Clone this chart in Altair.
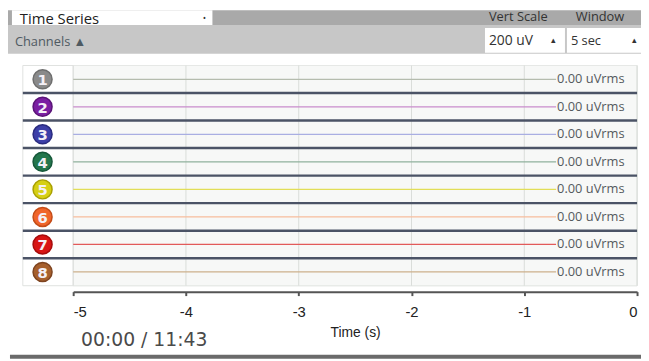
import altair as alt
import pandas as pd

# ---- data ----
channels = [1, 2, 3, 4, 5, 6, 7, 8]
badge_colors = ["#8a8a8a", "#7b1fa2", "#3d3fa8", "#23764c", "#d6cf14", "#f0652a", "#d81515", "#a65f2c"]
badge_strokes = ["#6e6e6e", "#5a1478", "#2a2c80", "#16583a", "#a9a000", "#c44c18", "#a80c0c", "#7e4420"]
trace_colors = ["#b5bcae", "#c98ccc", "#a9aee2", "#8fb19d", "#e2de58", "#f7bd9d", "#e25a5a", "#cdb08c"]
rms_values = [0.00, 0.00, 0.00, 0.00, 0.00, 0.00, 0.00, 0.00]
time_ticks = [-5, -4, -3, -2, -1, 0]
grid_times = [-5, -4, -3, -2, -1, 0]
window_start = -5
window_end = 0
elapsed = "00:00"
duration = "11:43"

rows = pd.DataFrame({
    "ch": channels,
    "badge": badge_colors,
    "badge_stroke": badge_strokes,
    "trace": trace_colors,
    "rms": [f"{v:.2f} uVrms" for v in rms_values],
    "t0": [window_start] * len(channels),
    "num": [str(c) for c in channels],
})
seps = rows[rows["ch"] < 8]
grid = pd.DataFrame({"t": grid_times})
one = pd.DataFrame({"k": [0]})

X_SCALE = alt.Scale(domain=[window_start, window_end], range=[66, 637])
Y_SCALE = alt.Scale(type="band", range=[56, 279], paddingInner=0, paddingOuter=0)
UI_FONT = "Open Sans"

base_one = alt.Chart(one)


def box(x, x2, y, y2, color, stroke=None):
    kw = {}
    if stroke:
        kw = dict(stroke=stroke, strokeWidth=1)
    return base_one.mark_rect(color=color, **kw).encode(
        x=alt.value(x), x2=alt.value(x2), y=alt.value(y), y2=alt.value(y2)
    )


def label(text, x, y, size, color="#333333", align="left", weight="normal",
          font=UI_FONT, baseline="middle"):
    return base_one.mark_text(
        text=text, align=align, baseline=baseline, fontSize=size, color=color,
        fontWeight=weight, font=font
    ).encode(x=alt.value(x), y=alt.value(y))


# ---- header chrome ----
top_bar = box(0, 641, 0, 15, "#a9a9a9")
sub_bar = box(0, 641, 15, 44, "#c7c7c7")
ts_box = box(4, 207, 0, 15, "#ffffff")
ts_text = label("Time Series", 12, 2, 15, "#222222", baseline="top")
ts_dot = label("•", 199, 8, 9, "#333333", align="center")
channels_text = label("Channels ▲", 7, 32, 13, "#4f5a62")
vert_text = label("Vert Scale", 487, 1, 13, "#333333", baseline="top")
win_text = label("Window", 575, 1, 13, "#333333", baseline="top")
vs_box = box(483, 564, 18, 43, "#ffffff")
win_box = box(566, 641, 18, 43, "#ffffff")
vs_text = label("200 uV", 487, 31, 14, "#333333")
vs_arrow = label("▴", 552, 30, 9, "#333333", align="center")
win_val = label("5 sec", 570, 31, 13, "#333333")
win_arrow = label("▴", 634, 30, 9, "#333333", align="center")

# ---- panel ----
panel_bg = box(15, 637, 56, 279, "#ffffff", stroke="#dfe2df")
y_enc = alt.Y("ch:O", scale=Y_SCALE, axis=None)

row_bg = alt.Chart(rows).mark_rect(color="#f7f8f7", stroke="#e6e8e6", strokeWidth=1).encode(
    x=alt.value(66), x2=alt.value(637), y=y_enc
)
grid_rules = alt.Chart(grid).mark_rule(color="#d9dcd9", strokeWidth=1).encode(
    x=alt.X("t:Q", scale=X_SCALE), y=alt.value(56), y2=alt.value(279)
)
traces = alt.Chart(rows).mark_rule(strokeWidth=1.3).encode(
    x=alt.X("t0:Q", scale=X_SCALE), x2=alt.value(555), y=y_enc,
    color=alt.Color("trace:N", scale=None),
)
rms_text = alt.Chart(rows).mark_text(
    align="left", baseline="middle", fontSize=13, color="#555a5e", font=UI_FONT
).encode(x=alt.value(556), y=y_enc, text="rms:N")
separators = alt.Chart(seps).mark_rule(color="#4b5366", strokeWidth=2.5).encode(
    x=alt.value(15), x2=alt.value(637), y=alt.Y("ch:O", scale=Y_SCALE, axis=None, bandPosition=1)
)
badges = alt.Chart(rows).mark_circle(size=370, opacity=1, strokeWidth=1.5).encode(
    x=alt.value(35), y=y_enc,
    color=alt.Color("badge:N", scale=None),
    stroke=alt.Stroke("badge_stroke:N", scale=None),
)
badge_nums = alt.Chart(rows).mark_text(
    fontSize=15, fontWeight="bold", color="#f4f0f6", font="DejaVu Sans", baseline="middle", dy=1
).encode(x=alt.value(35), y=y_enc, text="num:N")

# ---- x axis (drawn through the time scale) ----
axis_layer = alt.Chart(pd.DataFrame({"t": time_ticks})).mark_point(opacity=0).encode(
    x=alt.X(
        "t:Q", scale=X_SCALE, title="Time (s)",
        axis=alt.Axis(
            values=time_ticks, grid=False, domainColor="#555555", domainWidth=2,
            tickColor="#555555", tickWidth=2, tickSize=4, labelFontSize=15,
            labelColor="#222222", labelFont="Liberation Sans", labelPadding=9,
            labelExpr="toString(datum.value)", titleFontSize=14,
            titleFontWeight="normal", titleColor="#222222", titleFont="Liberation Sans",
            titlePadding=6,
        ),
    ),
    y=alt.value(280),
)

# ---- footer ----
time_text = label(f"{elapsed} / {duration}", 74, 334, 19, "#4a4a4a", font="DejaVu Sans")
bottom_line = box(2, 641, 349, 353, "#6b6b6b")

chart = alt.layer(
    top_bar, sub_bar, ts_box, ts_text, ts_dot, channels_text, vert_text, win_text,
    vs_box, win_box, vs_text, vs_arrow, win_val, win_arrow,
    panel_bg, row_bg, grid_rules, traces, rms_text, separators, badges, badge_nums,
    axis_layer, time_text, bottom_line,
).properties(
    width=641, height=285,
    padding={"left": 0, "top": 0, "right": 0, "bottom": 68},
    autosize=alt.AutoSizeParams(type="none"),
).configure_view(strokeWidth=0)

chart.save("out.html", embed_options={"renderer": "svg", "actions": False})
